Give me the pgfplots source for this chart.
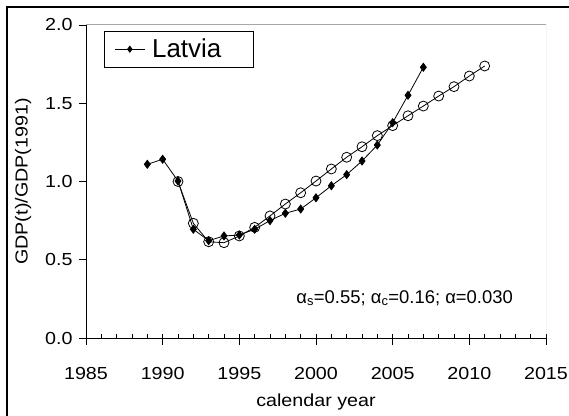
\documentclass[border=0pt]{standalone}
\usepackage{fontspec}
\setmainfont{Liberation Sans}
\usepackage{graphicx}
\usepackage{pgfplots}
\pgfplotsset{compat=1.18}
% text in this chart is set slightly wide
\newcommand{\wide}[1]{\scalebox{1.13}[1]{#1}}

\begin{document}
\begin{tikzpicture}
\useasboundingbox (0,0) rectangle (569bp,416bp);
% outer frame (left and top edges)
\draw[line width=1.5bp] (7bp,0) -- (7bp,409bp) -- (569bp,409bp);
\begin{axis}[
  at={(86bp,78bp)}, anchor=south west,
  scale only axis, width=460bp, height=313bp,
  xmin=1985, xmax=2015, ymin=0, ymax=2,
  axis x line*=bottom, axis y line*=left,
  axis line style={-, line width=0.9bp, black},
  xtick={1985,1990,...,2015},
  ytick={0,0.5,...,2},
  tick align=outside,
  major tick length=7bp,
  tick style={line width=0.9bp, black},
  extra x ticks={1985,...,2015},
  extra x tick labels={},
  extra x tick style={tick align=inside, major tick length=4bp},
  xticklabel={\wide{\pgfmathprintnumber[1000 sep={},assume math mode=true]{\tick}}},
  yticklabel={\wide{\pgfmathprintnumber[fixed,fixed zerofill,precision=1,assume math mode=true]{\tick}}},
  yticklabel style={xshift=-3bp},
  xticklabel style={yshift=-19bp},
  tick label style={font=\fontsize{17.5}{20}\selectfont},
  label style={font=\fontsize{17.5}{20}\selectfont},
  xlabel={\wide{calendar year}},
  xlabel style={yshift=0bp},
  ylabel={\wide{GDP(t)/GDP(1991)}},
  ylabel style={yshift=7bp},
  legend style={at={(rel axis cs:0.039,0.982)}, anchor=north west,
    draw=black, line width=0.9bp, font=\fontsize{26}{29}\selectfont,
    inner xsep=10bp, inner ysep=6bp},
  legend cell align=left,
  legend image code/.code={
    \draw[mark repeat=2, mark phase=2, mark size=3bp] plot coordinates {(0bp,0bp) (15bp,0bp) (30bp,0bp)};
  },
]
% model curve
\addplot[black, line width=0.8bp, mark=o, mark size=5bp, mark options={line width=0.8bp}, forget plot]
  coordinates {
  (1991,1.000) (1992,0.733) (1993,0.615) (1994,0.609) (1995,0.652)
  (1996,0.707) (1997,0.780) (1998,0.856) (1999,0.928) (2000,1.003)
  (2001,1.080) (2002,1.155) (2003,1.222) (2004,1.293) (2005,1.357)
  (2006,1.420) (2007,1.482) (2008,1.546) (2009,1.606) (2010,1.674)
  (2011,1.738)
  };
% observed GDP
\addplot[black, line width=0.8bp, mark=diamond*, mark size=4bp]
  coordinates {
  (1989,1.110) (1990,1.142) (1991,1.003) (1992,0.695) (1993,0.622)
  (1994,0.652) (1995,0.658) (1996,0.695) (1997,0.750) (1998,0.797)
  (1999,0.824) (2000,0.896) (2001,0.973) (2002,1.044) (2003,1.131)
  (2004,1.233) (2005,1.376) (2006,1.551) (2007,1.730)
  };
\addlegendentry{\hspace*{5bp}Latvia\hspace*{20bp}}
\draw[gray!70, line width=1bp] (rel axis cs:0,1) -- (rel axis cs:1,1) -- (rel axis cs:1,0);
\node[font=\fontsize{18.5}{21}\selectfont] at (axis cs:2005.78,0.256)
  {α\textsubscript{s}=0.55; α\textsubscript{c}=0.16; α=0.030};
\end{axis}
\end{tikzpicture}
\end{document}
